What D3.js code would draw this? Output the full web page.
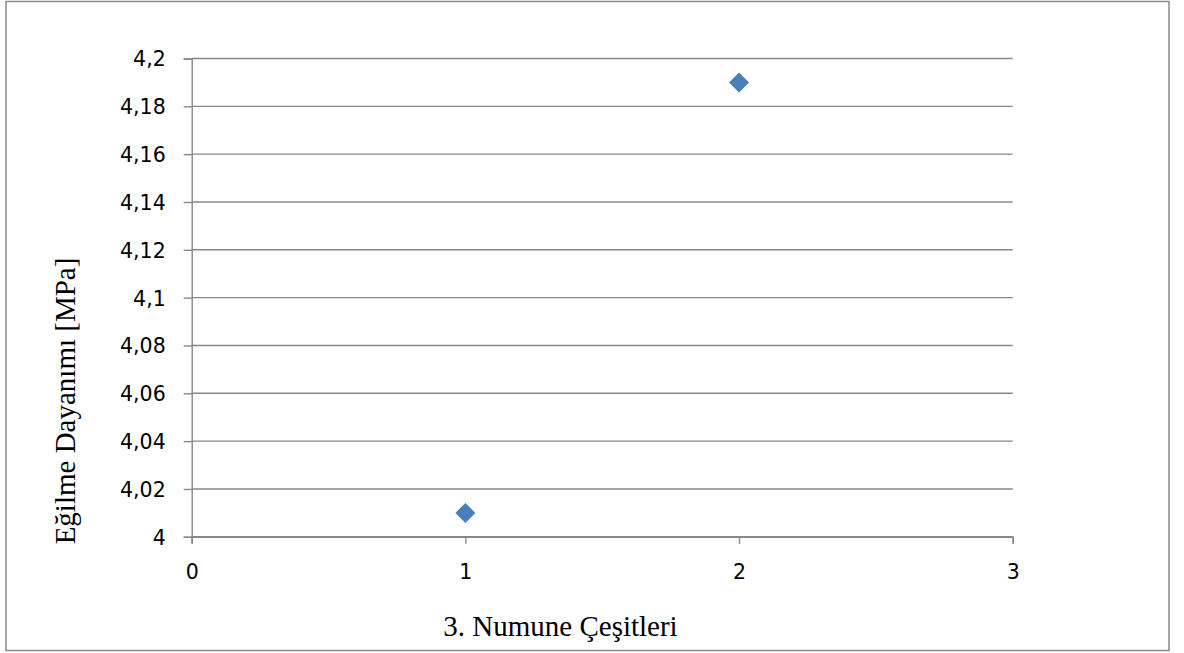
<!DOCTYPE html>
<html>
<head>
<meta charset="utf-8">
<script src="https://cdn.jsdelivr.net/npm/d3@7"></script>
<style>
  html, body { margin: 0; padding: 0; background: #fff; }
  svg { display: block; }
</style>
</head>
<body>
<div id="chart"></div>
<script>
// Sample types on the x axis and their bending strength (MPa)
const sampleTypes = [1, 2];
const strengthValues = [4.01, 4.19];
const xTickValues = [0, 1, 2, 3];
const yTickValues = [4, 4.02, 4.04, 4.06, 4.08, 4.1, 4.12, 4.14, 4.16, 4.18, 4.2];
const xAxisTitle = "3. Numune Çeşitleri";
const yAxisTitle = "Eğilme Dayanımı [MPa]";

const W = 1184, H = 653;
const plot = { left: 191.7, right: 1012.7, top: 58.5, bottom: 536.8 };
const gridColor = "#878787";
const markerColor = "#4a7ebb";

const svg = d3.select("#chart").append("svg")
  .attr("width", W).attr("height", H);

// outer chart frame
svg.append("rect")
  .attr("x", 6).attr("y", 1.5)
  .attr("width", 1163).attr("height", 649)
  .attr("fill", "#fff")
  .attr("stroke", "#8a8a8a").attr("stroke-width", 1.5);

const x = d3.scaleLinear().domain([0, 3]).range([plot.left, plot.right]);
const y = d3.scaleLinear().domain([4, 4.2]).range([plot.bottom, plot.top]);

const fmt = d => d3.format("")(+d.toFixed(2)).replace(".", ",");

// horizontal gridlines
svg.append("g")
  .selectAll("line")
  .data(yTickValues)
  .join("line")
  .attr("x1", plot.left).attr("x2", plot.right)
  .attr("y1", d => y(d)).attr("y2", d => y(d))
  .attr("stroke", gridColor).attr("stroke-width", 1.4);

// y axis
const yAxis = svg.append("g")
  .attr("transform", `translate(${plot.left},0)`)
  .call(d3.axisLeft(y).tickValues(yTickValues).tickSize(8).tickPadding(18).tickFormat(fmt));
yAxis.select(".domain").attr("stroke", gridColor).attr("stroke-width", 1.4);
yAxis.selectAll(".tick line").attr("stroke", gridColor).attr("stroke-width", 1.4);
yAxis.selectAll(".tick text")
  .attr("font-family", "'DejaVu Sans', sans-serif")
  .attr("font-size", 20.5)
  .attr("fill", "#000")
  .attr("dy", "0.36em");

// x axis
const xAxis = svg.append("g")
  .attr("transform", `translate(0,${plot.bottom})`)
  .call(d3.axisBottom(x).tickValues(xTickValues).tickSize(7).tickPadding(21).tickFormat(d3.format("d")));
xAxis.select(".domain").attr("stroke", gridColor).attr("stroke-width", 1.4);
xAxis.selectAll(".tick line").attr("stroke", gridColor).attr("stroke-width", 1.4);
xAxis.selectAll(".tick text")
  .attr("font-family", "'DejaVu Sans', sans-serif")
  .attr("font-size", 20.5)
  .attr("fill", "#000");

// diamond markers
const diamond = d3.symbol().type(d3.symbolSquare).size(200);
svg.append("g")
  .selectAll("path")
  .data(sampleTypes.map((s, i) => ({ s, v: strengthValues[i] })))
  .join("path")
  .attr("d", diamond)
  .attr("transform", d => `translate(${x(d.s)},${y(d.v)}) rotate(45)`)
  .attr("fill", markerColor);

// axis titles
svg.append("text")
  .attr("x", 560.5).attr("y", 636)
  .attr("text-anchor", "middle")
  .attr("font-family", "'Liberation Serif', 'Times New Roman', serif")
  .attr("font-size", 29)
  .attr("fill", "#000")
  .text(xAxisTitle);

svg.append("text")
  .attr("transform", "translate(75,401) rotate(-90)")
  .attr("text-anchor", "middle")
  .attr("font-family", "'Liberation Serif', 'Times New Roman', serif")
  .attr("font-size", 29)
  .attr("fill", "#000")
  .text(yAxisTitle);
</script>
</body>
</html>
